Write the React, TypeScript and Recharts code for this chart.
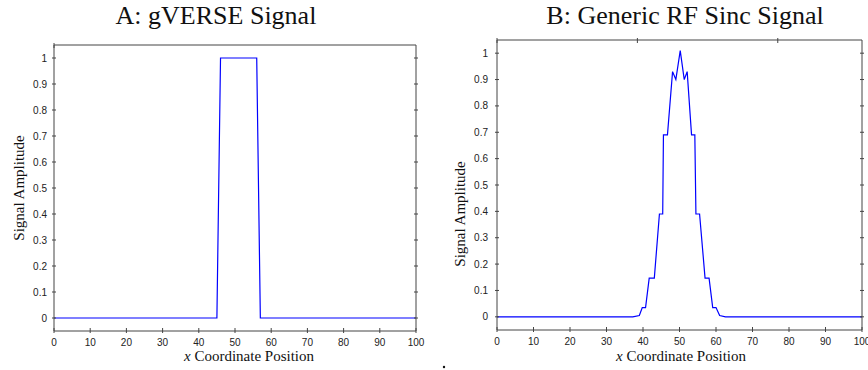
import React from 'react';
import { LineChart, Line, XAxis, YAxis } from 'recharts';

const xTicks = [0, 10, 20, 30, 40, 50, 60, 70, 80, 90, 100];
const yTicks = [0, 0.1, 0.2, 0.3, 0.4, 0.5, 0.6, 0.7, 0.8, 0.9, 1];

// A: gVERSE pulse
const gverseX = [0, 45, 46, 56, 57, 100];
const gverseY = [0, 0, 1, 1, 0, 0];

// B: sinc pulse
const sincX = [0, 37.2, 39.0, 39.8, 40.7, 41.7, 43.1, 44.5, 45.4, 45.6, 46.7, 48.1, 49.0, 50.2, 51.3, 52.1, 53.3, 54.2, 54.5, 55.5, 57.0, 58.1, 59.1, 60.0, 61.0, 62.6, 100];
const sincY = [0, 0, 0.005, 0.035, 0.035, 0.147, 0.147, 0.39, 0.39, 0.69, 0.69, 0.93, 0.9, 1.01, 0.9, 0.93, 0.69, 0.69, 0.39, 0.39, 0.147, 0.147, 0.035, 0.035, 0.005, 0, 0];

const toRows = (xs: number[], ys: number[]) => xs.map((x, i) => ({ x, y: ys[i] }));

const AXIS = '#444';
const TICK_FONT = 'Liberation Sans, Arial, sans-serif';
const SERIF = 'Liberation Serif, Times New Roman, serif';

const BottomTick = ({ x, y, payload }: any) => (
  <g>
    <line x1={x} x2={x} y1={y} y2={y - 5} stroke={AXIS} />
    <text x={x} y={y + 13} textAnchor="middle" fontSize={10} fontFamily={TICK_FONT} fill="#222">
      {payload.value}
    </text>
  </g>
);

const TopTick = ({ x, y }: any) => <line x1={x} x2={x} y1={y} y2={y + 5} stroke={AXIS} />;

const makeLeftTick = (gap: number) => ({ x, y, payload }: any) => (
  <g>
    <line x1={x} x2={x + 4} y1={y} y2={y} stroke={AXIS} />
    <text x={x - gap} y={y + 3.5} textAnchor="end" fontSize={10} fontFamily={TICK_FONT} fill="#222">
      {String(payload.value)}
    </text>
  </g>
);

const RightTick = ({ x, y }: any) => <line x1={x} x2={x - 4} y1={y} y2={y} stroke={AXIS} />;

const Panel = ({ data, width, margin, gap }: any) => (
  <LineChart width={width} height={370} data={data} margin={margin}>
    <XAxis
      dataKey="x"
      type="number"
      domain={[0, 100]}
      ticks={xTicks}
      interval={0}
      height={10}
      tickSize={0}
      tickLine={false}
      axisLine={{ stroke: AXIS }}
      tick={BottomTick}
    />
    <XAxis
      xAxisId="top"
      orientation="top"
      type="number"
      domain={[0, 100]}
      allowDataOverflow
      ticks={xTicks}
      interval={0}
      height={2}
      tickSize={0}
      tickLine={false}
      axisLine={{ stroke: AXIS }}
      tick={TopTick}
    />
    <YAxis
      type="number"
      domain={[-0.05, 1.05]}
      allowDataOverflow
      ticks={yTicks}
      interval={0}
      width={10}
      tickSize={0}
      tickLine={false}
      axisLine={{ stroke: AXIS }}
      tick={makeLeftTick(gap)}
    />
    <YAxis
      yAxisId="right"
      orientation="right"
      type="number"
      domain={[-0.05, 1.05]}
      allowDataOverflow
      ticks={yTicks}
      interval={0}
      width={2}
      tickSize={0}
      tickLine={false}
      axisLine={{ stroke: AXIS }}
      tick={RightTick}
    />
    <Line
      dataKey="y"
      type="linear"
      stroke="#0000ff"
      strokeWidth={1.2}
      dot={false}
      isAnimationActive={false}
    />
  </LineChart>
);

export default function App() {
  return (
    <div style={{ position: 'absolute', left: 0, top: 0, width: 868, height: 370, background: '#fff' }}>
      <div style={{ position: 'absolute', left: 0, top: 0 }}>
        <Panel data={toRows(gverseX, gverseY)} width={440} margin={{ top: 43, right: 22, bottom: 29, left: 44 }} gap={5} />
      </div>
      <div style={{ position: 'absolute', left: 440, top: 0 }}>
        <Panel data={toRows(sincX, sincY)} width={428} margin={{ top: 38, right: 4, bottom: 30, left: 47 }} gap={7} />
      </div>
      <svg width={868} height={370} style={{ position: 'absolute', left: 0, top: 0, pointerEvents: 'none' }}>
        <text x={216} y={24} textAnchor="middle" fontSize={26} fontFamily={SERIF} fill="#111">
          A: gVERSE Signal
        </text>
        <text x={685} y={24} textAnchor="middle" fontSize={26} fontFamily={SERIF} fill="#111">
          B: Generic RF Sinc Signal
        </text>
        <text transform="translate(24,188) rotate(-90)" textAnchor="middle" fontSize={15} fontFamily={SERIF} fill="#111">
          Signal Amplitude
        </text>
        <text transform="translate(465,214) rotate(-90)" textAnchor="middle" fontSize={15} fontFamily={SERIF} fill="#111">
          Signal Amplitude
        </text>
        <text x={249} y={361} textAnchor="middle" fontSize={15} fontFamily={SERIF} fill="#111">
          <tspan fontStyle="italic">x</tspan> Coordinate Position
        </text>
        <text x={681} y={361} textAnchor="middle" fontSize={15} fontFamily={SERIF} fill="#111">
          <tspan fontStyle="italic">x</tspan> Coordinate Position
        </text>
        <circle cx={444} cy={367} r={1.2} fill="#111" />
      </svg>
    </div>
  );
}
